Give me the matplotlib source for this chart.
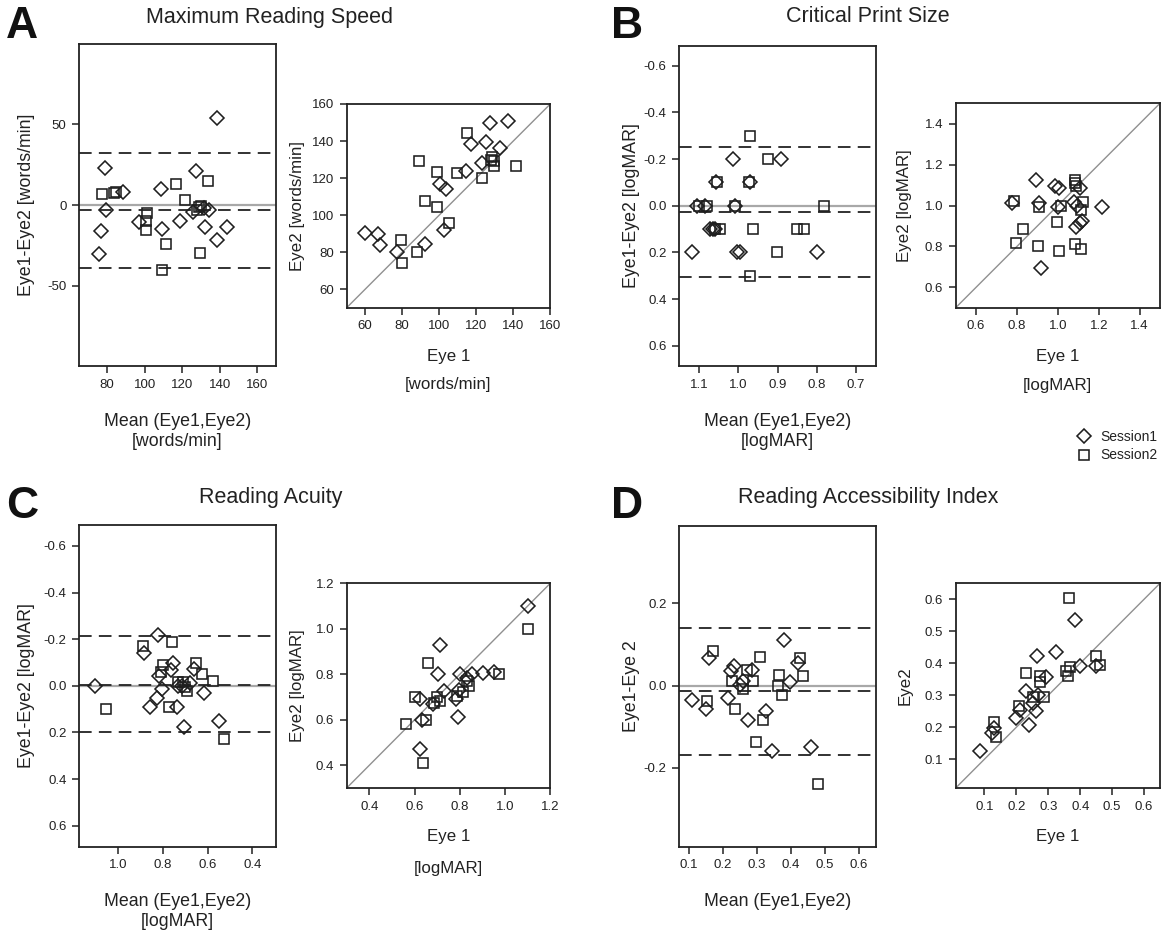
import numpy as np
import matplotlib
matplotlib.use('Agg')
import matplotlib.pyplot as plt
from matplotlib.lines import Line2D

plt.rcParams['font.family'] = ['Liberation Sans', 'DejaVu Sans']
plt.rcParams['axes.unicode_minus'] = False
plt.rcParams['text.color'] = '#222222'
plt.rcParams['xtick.color'] = '#222222'
plt.rcParams['ytick.color'] = '#222222'

# A: Maximum Reading Speed
mrs_ba_s1_x = [138.3, 78.6, 88.3, 79.3, 76.5, 75.4, 108.8, 97.2, 109.1, 118.8, 127.3, 125.6, 134.5, 132.3, 138.3, 143.9, 131.5]
mrs_ba_s1_y = [53.7, 22.8, 8.0, -3.3, -16.3, -30.0, 10.1, -10.7, -14.8, -9.7, 21.2, -4.1, -2.9, -13.8, -21.4, -13.8, -1.9]
mrs_ba_s2_x = [77.4, 83.6, 84.5, 101.5, 100.5, 100.5, 111.3, 109.1, 116.5, 121.7, 133.7, 128.9, 130.0, 129.4, 128.0]
mrs_ba_s2_y = [6.8, 7.4, 8.2, -5.1, -9.7, -15.2, -24.1, -39.9, 13.0, 3.1, 14.8, -1.4, -0.8, -29.6, -3.3]
mrs_lines = [32.3, -3.3, -38.9]
mrs_sc_s1_x = [60.0, 66.7, 68.0, 77.0, 92.4, 102.3, 100.5, 103.4, 114.2, 117.3, 125.5, 127.3, 137.2, 132.7, 123.3]
mrs_sc_s1_y = [90.2, 89.9, 84.1, 80.3, 84.5, 91.7, 116.8, 114.0, 124.0, 138.2, 139.3, 149.6, 151.0, 136.1, 128.0]
mrs_sc_s2_x = [79.5, 79.9, 87.8, 88.9, 98.7, 92.5, 98.7, 105.0, 109.7, 115.0, 123.3, 128.5, 129.4, 129.4, 141.2, 128.0]
mrs_sc_s2_y = [86.4, 74.0, 80.3, 129.2, 123.5, 107.8, 104.2, 96.0, 123.0, 144.5, 120.3, 131.2, 126.5, 129.0, 126.5, 130.0]

# B: Critical Print Size
cps_ba_s1_x = [1.117, 1.014, 0.891, 0.799, 1.057, 0.970, 1.106, 1.085, 1.008, 1.072, 1.065, 1.058, 1.004, 0.996]
cps_ba_s1_y = [0.2, -0.2, -0.2, 0.2, -0.1, -0.1, 0.0, 0.0, 0.0, 0.1, 0.1, 0.1, 0.2, 0.2]
cps_ba_s2_x = [0.970, 0.925, 1.055, 0.972, 1.100, 1.080, 1.008, 0.782, 1.046, 0.962, 0.851, 0.832, 0.902, 0.970, 1.060]
cps_ba_s2_y = [-0.3, -0.2, -0.1, -0.1, 0.0, 0.0, 0.0, 0.0, 0.1, 0.1, 0.1, 0.1, 0.2, 0.3, 0.1]
cps_lines = [-0.253, 0.026, 0.306]
cps_sc_s1_x = [0.778, 0.894, 0.909, 0.984, 1.007, 1.003, 1.077, 1.106, 1.088, 1.106, 1.118, 1.216, 0.917, 1.093]
cps_sc_s1_y = [1.010, 1.125, 1.010, 1.096, 1.084, 0.994, 1.019, 1.084, 0.896, 0.916, 0.925, 0.991, 0.696, 0.997]
cps_sc_s2_x = [0.783, 0.827, 0.794, 0.905, 0.909, 0.995, 1.015, 1.008, 1.082, 1.113, 1.085, 1.085, 1.090, 1.122, 1.113]
cps_sc_s2_y = [1.022, 0.884, 0.817, 0.803, 0.994, 0.920, 0.999, 0.778, 0.814, 0.786, 1.125, 1.108, 1.095, 1.015, 0.980]

# C: Reading Acuity
ra_ba_s1_x = [1.103, 0.824, 0.885, 0.754, 0.766, 0.816, 0.806, 0.828, 0.858, 0.739, 0.660, 0.679, 0.616, 0.704, 0.549, 0.735, 0.715]
ra_ba_s1_y = [0.0, -0.22, -0.139, -0.1, -0.068, -0.042, 0.014, 0.054, 0.09, 0.09, -0.071, -0.011, 0.029, 0.178, 0.15, 0.0, 0.0]
ra_ba_s2_x = [0.891, 0.758, 0.801, 0.807, 0.652, 0.627, 0.575, 0.731, 0.712, 0.701, 0.694, 0.772, 1.055, 0.528]
ra_ba_s2_y = [-0.171, -0.19, -0.089, -0.058, -0.1, -0.051, -0.021, -0.015, -0.015, 0.003, 0.022, 0.09, 0.1, 0.23]
ra_lines = [-0.215, -0.004, 0.2]
ra_sc_s1_x = [1.100, 0.712, 0.702, 0.624, 0.631, 0.624, 0.793, 0.683, 0.728, 0.783, 0.801, 0.852, 0.901, 0.951, 0.830, 0.796]
ra_sc_s1_y = [1.102, 0.927, 0.800, 0.690, 0.600, 0.470, 0.610, 0.670, 0.728, 0.690, 0.800, 0.800, 0.807, 0.812, 0.782, 0.731]
ra_sc_s2_x = [1.100, 0.973, 0.661, 0.602, 0.562, 0.650, 0.639, 0.698, 0.712, 0.789, 0.813, 0.840, 0.833, 0.686]
ra_sc_s2_y = [0.998, 0.800, 0.851, 0.702, 0.580, 0.600, 0.412, 0.699, 0.684, 0.705, 0.724, 0.750, 0.772, 0.675]

# D: Reading Accessibility Index
rai_ba_s1_x = [0.108, 0.149, 0.159, 0.213, 0.223, 0.231, 0.249, 0.259, 0.272, 0.284, 0.325, 0.345, 0.379, 0.397, 0.419, 0.458]
rai_ba_s1_y = [-0.036, -0.057, 0.067, -0.030, 0.035, 0.047, 0.002, 0.011, -0.083, 0.037, -0.062, -0.158, 0.110, 0.008, 0.055, -0.149]
rai_ba_s2_x = [0.171, 0.151, 0.225, 0.235, 0.257, 0.269, 0.289, 0.308, 0.316, 0.298, 0.360, 0.364, 0.374, 0.426, 0.436, 0.480]
rai_ba_s2_y = [0.084, -0.037, 0.012, -0.058, -0.008, 0.039, 0.012, 0.070, -0.084, -0.138, 0.000, 0.025, -0.022, 0.066, 0.023, -0.239]
rai_lines = [0.14, -0.014, -0.17]
rai_sc_s1_x = [0.087, 0.124, 0.129, 0.200, 0.210, 0.241, 0.231, 0.262, 0.268, 0.266, 0.292, 0.323, 0.383, 0.399, 0.449, 0.252]
rai_sc_s1_y = [0.126, 0.182, 0.197, 0.229, 0.255, 0.208, 0.312, 0.250, 0.302, 0.424, 0.356, 0.435, 0.534, 0.391, 0.391, 0.276]
rai_sc_s2_x = [0.129, 0.135, 0.207, 0.229, 0.252, 0.286, 0.275, 0.273, 0.364, 0.354, 0.362, 0.367, 0.448, 0.462]
rai_sc_s2_y = [0.215, 0.171, 0.267, 0.370, 0.295, 0.294, 0.359, 0.340, 0.603, 0.377, 0.359, 0.388, 0.424, 0.394]

titles = ['Maximum Reading Speed', 'Critical Print Size', 'Reading Acuity', 'Reading Accessibility Index']
letters = ['A', 'B', 'C', 'D']
sessions = ['Session1', 'Session2']

EC = '#1e1e1e'
D_KW = dict(ls='none', marker='D', ms=6.8, mfc='none', mec=EC, mew=1.15, clip_on=False)
S_KW = dict(ls='none', marker='s', ms=7.4, mfc='none', mec=EC, mew=1.15, clip_on=False)


def style(ax):
    for s in ax.spines.values():
        s.set_linewidth(1.3)
        s.set_color('#222222')
    ax.tick_params(direction='out', length=5, width=1.1, labelsize=9.5, pad=4)


def ba_panel(ax, s1x, s1y, s2x, s2y, lines, xlim, ylim, xticks, yticks, fmt):
    ax.axhline(0, color='#a8a8a8', lw=1.6, zorder=1)
    for v in lines:
        ax.axhline(v, color='#222222', lw=1.3, dashes=(7, 4), zorder=1)
    ax.plot(s1x, s1y, zorder=3, **D_KW)
    ax.plot(s2x, s2y, zorder=3, **S_KW)
    ax.set_xlim(*xlim)
    ax.set_ylim(*ylim)
    ax.set_xticks(xticks)
    ax.set_yticks(yticks)
    ax.set_xticklabels([fmt % t for t in xticks])
    ax.set_yticklabels([fmt % t for t in yticks])
    style(ax)


def sc_panel(ax, s1x, s1y, s2x, s2y, lim, ticks, fmt):
    ax.axline((0, 0), slope=1, color='#909090', lw=1.0, zorder=1)  # line of equality
    ax.plot(s1x, s1y, zorder=3, **D_KW)
    ax.plot(s2x, s2y, zorder=3, **S_KW)
    ax.set_xlim(*lim)
    ax.set_ylim(*lim)
    ax.set_xticks(ticks)
    ax.set_yticks(ticks)
    ax.set_xticklabels([fmt % t for t in ticks])
    ax.set_yticklabels([fmt % t for t in ticks])
    style(ax)


def ylab(ax, text, dx, size):
    ax.text(dx, 0.5, text, rotation=90, ha='center', va='center', fontsize=size, transform=ax.transAxes)


def xlab(ax, text, dy, size):
    ax.text(0.5, dy, text, ha='center', va='center', fontsize=size, transform=ax.transAxes)


W, H = 1164, 932
fig = plt.figure(figsize=(W / 100, H / 100), dpi=100)


def box(x0, y0, x1, y1):  # pixel box -> figure axes
    return fig.add_axes([x0 / W, 1 - y1 / H, (x1 - x0) / W, (y1 - y0) / H])


# A
ax = box(79, 44, 276, 366)
ba_panel(ax, mrs_ba_s1_x, mrs_ba_s1_y, mrs_ba_s2_x, mrs_ba_s2_y, mrs_lines,
         (65, 170), (-99.5, 99.5), [80, 100, 120, 140, 160], [-50, 0, 50], '%d')
ylab(ax, 'Eye1-Eye2 [words/min]', -52 / 197, 12.8)
xlab(ax, 'Mean (Eye1,Eye2)', -56 / 322, 12.8)
xlab(ax, '[words/min]', -76 / 322, 12.8)
ax = box(346.7, 104, 550.3, 307.7)
sc_panel(ax, mrs_sc_s1_x, mrs_sc_s1_y, mrs_sc_s2_x, mrs_sc_s2_y, (50, 160), [60, 80, 100, 120, 140, 160], '%d')
ylab(ax, 'Eye2 [words/min]', -49 / 203.6, 12.2)
xlab(ax, 'Eye 1', -49 / 203.7, 12.2)
xlab(ax, '[words/min]', -77 / 203.7, 12.2)

# B
ax = box(679, 45.7, 876, 366)
ba_panel(ax, cps_ba_s1_x, cps_ba_s1_y, cps_ba_s2_x, cps_ba_s2_y, cps_lines,
         (1.151, 0.649), (0.687, -0.686), [1.1, 1.0, 0.9, 0.8, 0.7], [-0.6, -0.4, -0.2, 0.0, 0.2, 0.4, 0.6], '%.1f')
ylab(ax, 'Eye1-Eye2 [logMAR]', -47 / 197, 12.8)
xlab(ax, 'Mean (Eye1,Eye2)', -55.7 / 320.3, 12.8)
xlab(ax, '[logMAR]', -75.7 / 320.3, 12.8)
ax = box(955.7, 103.3, 1160, 307.7)
sc_panel(ax, cps_sc_s1_x, cps_sc_s1_y, cps_sc_s2_x, cps_sc_s2_y, (0.5, 1.5), [0.6, 0.8, 1.0, 1.2, 1.4], '%.1f')
ylab(ax, 'Eye2 [logMAR]', -51 / 204.3, 12.2)
xlab(ax, 'Eye 1', -49 / 204.4, 12.2)
xlab(ax, '[logMAR]', -77.3 / 204.4, 12.2)

# C
ax = box(79, 525, 276, 846.7)
ba_panel(ax, ra_ba_s1_x, ra_ba_s1_y, ra_ba_s2_x, ra_ba_s2_y, ra_lines,
         (1.176, 0.294), (0.69, -0.69), [1.0, 0.8, 0.6, 0.4], [-0.6, -0.4, -0.2, 0.0, 0.2, 0.4, 0.6], '%.1f')
ylab(ax, 'Eye1-Eye2 [logMAR]', -52 / 197, 12.8)
xlab(ax, 'Mean (Eye1,Eye2)', -55 / 321.7, 12.8)
xlab(ax, '[logMAR]', -75 / 321.7, 12.8)
ax = box(346.7, 583.3, 550.3, 788)
sc_panel(ax, ra_sc_s1_x, ra_sc_s1_y, ra_sc_s2_x, ra_sc_s2_y, (0.3, 1.2), [0.4, 0.6, 0.8, 1.0, 1.2], '%.1f')
ylab(ax, 'Eye2 [logMAR]', -49 / 203.6, 12.2)
xlab(ax, 'Eye 1', -48.7 / 204.7, 12.2)
xlab(ax, '[logMAR]', -80 / 204.7, 12.2)

# D
ax = box(679, 525.7, 876, 846.7)
ba_panel(ax, rai_ba_s1_x, rai_ba_s1_y, rai_ba_s2_x, rai_ba_s2_y, rai_lines,
         (0.07, 0.65), (-0.392, 0.389), [0.1, 0.2, 0.3, 0.4, 0.5, 0.6], [-0.2, 0.0, 0.2], '%.1f')
ylab(ax, 'Eye1-Eye 2', -47 / 197, 12.8)
xlab(ax, 'Mean (Eye1,Eye2)', -55 / 321, 12.8)
ax = box(955.7, 583.3, 1160, 788)
sc_panel(ax, rai_sc_s1_x, rai_sc_s1_y, rai_sc_s2_x, rai_sc_s2_y, (0.01, 0.65), [0.1, 0.2, 0.3, 0.4, 0.5, 0.6], '%.1f')
ylab(ax, 'Eye2', -51 / 204.3, 12.2)
xlab(ax, 'Eye 1', -48.7 / 204.7, 12.2)

# titles and panel letters
for (x, y), t in zip([(270, 17), (868, 17), (271, 498), (868, 498)], titles):
    fig.text(x / W, 1 - y / H, t, ha='center', va='center', fontsize=15.5)
for (x, y), t in zip([(22, 27), (627, 27), (22, 507), (627, 507)], letters):
    fig.text(x / W, 1 - y / H, t, ha='center', va='center', fontsize=32, fontweight='bold', color='#111111')

# legend
handles = [Line2D([], [], **D_KW), Line2D([], [], **S_KW)]
fig.legend(handles, sessions, loc='center left', bbox_to_anchor=(1063 / W, 1 - 446 / H),
           frameon=False, fontsize=10, handlelength=1.2, handletextpad=0.6, labelspacing=0.35)

plt.savefig('out.png', dpi=100)
